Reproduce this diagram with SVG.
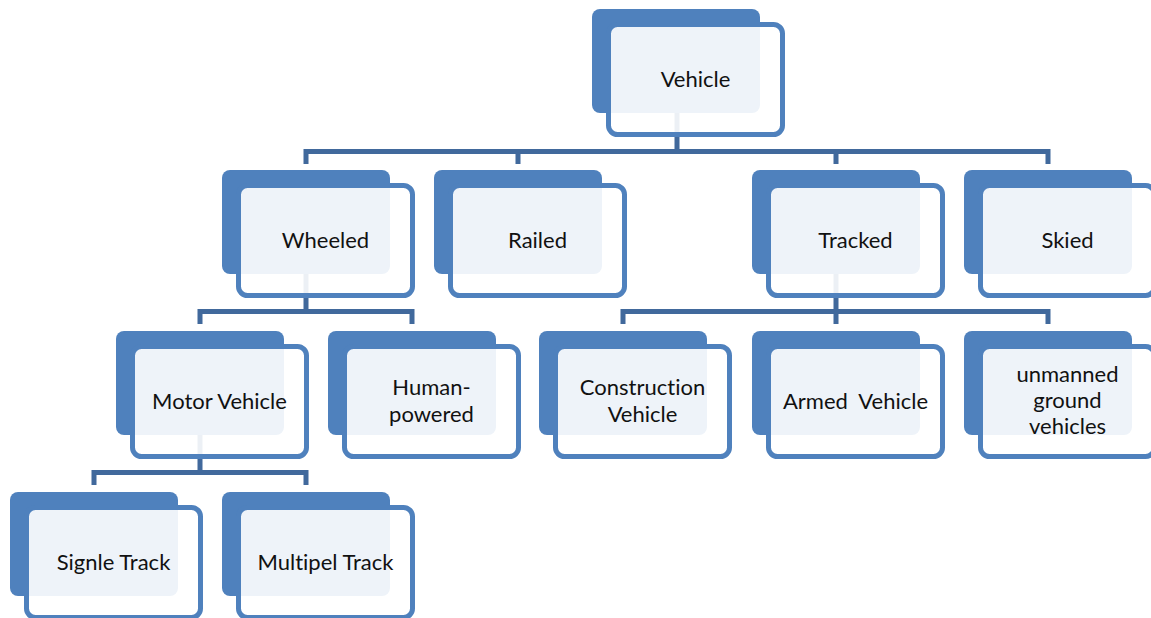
<svg xmlns="http://www.w3.org/2000/svg" width="1151" height="618" viewBox="0 0 1151 618">
  <style>
    .back { fill: #4F81BD; }
    .front { fill: #FFFFFF; fill-opacity: 0.9; stroke: #4F81BD; stroke-width: 5; }
    .lbl { font-family: Lato, "Liberation Sans", sans-serif; font-size: 22px; fill: #111111; text-anchor: middle; white-space: pre; font-variant-ligatures: none; font-feature-settings: "liga" 0; }
    .conn { fill: none; stroke: #41699C; stroke-width: 5; stroke-linejoin: miter; stroke-linecap: butt; }
  </style>
  <defs>
    <!-- one node: filled back plate plus a translucent outlined card offset down-right -->
    <g id="card">
      <rect class="back" x="0" y="0" width="168" height="104" rx="8"/>
      <rect class="front" x="16.5" y="15.5" width="174" height="110" rx="9"/>
    </g>
  </defs>
  <rect width="1151" height="618" fill="#FFFFFF"/>

  <g id="connectors">
    <path class="conn" d="M677 113 V151.5 M306 164 V151.5 H1048 V164 M518 151.5 V164 M836 151.5 V164"/>
    <path class="conn" d="M306 274 V311.5 M200 324 V311.5 H412 V324"/>
    <path class="conn" d="M836 274 V311.5 M623 324 V311.5 H1048 V324 M836 311.5 V324"/>
    <path class="conn" d="M200 435 V472.5 M94 485 V472.5 H306 V485"/>
  </g>

  <g id="vehicle"><use href="#card" x="592" y="9"/><text class="lbl" x="695.5" y="87">Vehicle</text></g>

  <g id="wheeled"><use href="#card" x="222" y="170"/><text class="lbl" x="325.5" y="248">Wheeled</text></g>
  <g id="railed"><use href="#card" x="434" y="170"/><text class="lbl" x="537.5" y="248">Railed</text></g>
  <g id="tracked"><use href="#card" x="752" y="170"/><text class="lbl" x="855.5" y="248">Tracked</text></g>
  <g id="skied"><use href="#card" x="964" y="170"/><text class="lbl" x="1067.5" y="248">Skied</text></g>

  <g id="motor-vehicle"><use href="#card" x="116" y="331"/><text class="lbl" x="219.5" y="409">Motor Vehicle</text></g>
  <g id="human-powered"><use href="#card" x="328" y="331"/><text class="lbl" x="431.5" y="395"><tspan x="431.5">Human-</tspan><tspan x="431.5" dy="27">powered</tspan></text></g>
  <g id="construction-vehicle"><use href="#card" x="539" y="331"/><text class="lbl" x="642.5" y="395"><tspan x="642.5">Construction</tspan><tspan x="642.5" dy="27">Vehicle</tspan></text></g>
  <g id="armed-vehicle"><use href="#card" x="752" y="331"/><text class="lbl" x="855.5" y="409">Armed  Vehicle</text></g>
  <g id="ugv"><use href="#card" x="964" y="331"/><text class="lbl" x="1067.5" y="382"><tspan x="1067.5">unmanned</tspan><tspan x="1067.5" dy="26">ground</tspan><tspan x="1067.5" dy="26">vehicles</tspan></text></g>

  <g id="single-track"><use href="#card" x="10" y="492"/><text class="lbl" x="113.5" y="570">Signle Track</text></g>
  <g id="multiple-track"><use href="#card" x="222" y="492"/><text class="lbl" x="325.5" y="570">Multipel Track</text></g>
</svg>
